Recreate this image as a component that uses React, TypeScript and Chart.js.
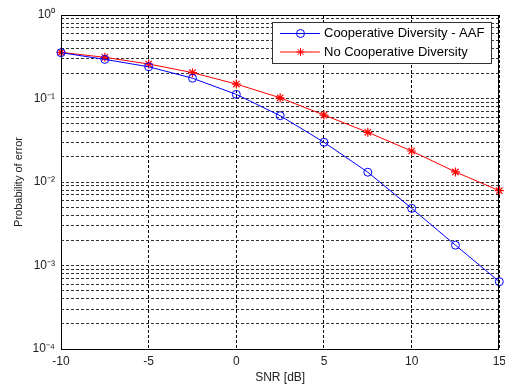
import { useEffect, useRef } from 'react';
import { Chart, registerables } from 'chart.js';

Chart.register(...registerables);

const snrDb = [-10, -7.5, -5, -2.5, 0, 2.5, 5, 7.5, 10, 12.5, 15];
const coopAAF = [0.354, 0.294, 0.24, 0.175, 0.112, 0.0622, 0.0299, 0.0131, 0.00484, 0.00175, 0.00064];
const noCoop = [0.357, 0.311, 0.259, 0.204, 0.149, 0.102, 0.0634, 0.0394, 0.0235, 0.0132, 0.00787];
const seriesLabels = ['Cooperative Diversity - AAF', 'No Cooperative Diversity'];
const seriesColors = ['#0000ff', '#ff0000'];
const xTickValues = [-10, -5, 0, 5, 10, 15];
const yDecades = [-4, -3, -2, -1];
const yMantissas = [1, 2, 3, 4, 5, 6, 7, 8, 9];
const xTitle = 'SNR [dB]';
const yTitle = 'Probability of error';

const FONT = '"Liberation Sans", Arial, Helvetica, sans-serif';

const yTickValues: number[] = [];
yDecades.forEach((d) => yMantissas.forEach((m) => yTickValues.push(parseFloat((m * Math.pow(10, d)).toPrecision(3)))));
yTickValues.push(1);

const SUP: Record<string, string> = { '-': '⁻', '0': '⁰', '1': '¹', '2': '²', '3': '³', '4': '⁴', '5': '⁵', '6': '⁶', '7': '⁷', '8': '⁸', '9': '⁹' };
const sup = (s: string) => s.split('').map((c) => SUP[c] ?? c).join('');

const bgPlugin = {
  id: 'bg',
  beforeDraw(chart: any) {
    const { ctx, width, height } = chart;
    ctx.save();
    ctx.fillStyle = '#ffffff';
    ctx.fillRect(0, 0, width, height);
    ctx.restore();
  },
};

const framePlugin = {
  id: 'frame',
  afterDatasetsDraw(chart: any) {
    const { ctx, chartArea: a } = chart;
    ctx.save();
    ctx.strokeStyle = '#000';
    ctx.lineWidth = 1;
    ctx.strokeRect(Math.round(a.left) + 0.5, Math.round(a.top) + 0.5, Math.round(a.right - a.left) - 1, Math.round(a.bottom - a.top));
    ctx.restore();
  },
};

const legendPlugin = {
  id: 'mlLegend',
  afterDraw(chart: any) {
    const { ctx } = chart;
    const ds = chart.data.datasets;
    const bx = 272, by = 22, bw = 219, bh = 41;
    ctx.save();
    ctx.fillStyle = '#fff';
    ctx.fillRect(bx, by, bw, bh);
    ctx.strokeStyle = '#333';
    ctx.lineWidth = 1;
    ctx.strokeRect(bx + 0.5, by + 0.5, bw, bh);
    const rows = [33.5, 52];
    ds.forEach((d: any, i: number) => {
      const y = rows[i];
      ctx.strokeStyle = d.borderColor;
      ctx.lineWidth = 1;
      ctx.beginPath();
      ctx.moveTo(280, y);
      ctx.lineTo(320, y);
      ctx.stroke();
      const cx = 300.5;
      if (d.pointStyle === 'circle') {
        ctx.beginPath();
        ctx.arc(cx, y, 4, 0, Math.PI * 2);
        ctx.stroke();
      } else {
        const r = 4;
        ctx.beginPath();
        for (let k = 0; k < 4; k++) {
          const ang = (k * Math.PI) / 4;
          ctx.moveTo(cx + r * Math.cos(ang), y + r * Math.sin(ang));
          ctx.lineTo(cx - r * Math.cos(ang), y - r * Math.sin(ang));
        }
        ctx.stroke();
      }
      ctx.fillStyle = '#000';
      ctx.font = `13px ${FONT}`;
      ctx.textBaseline = 'middle';
      ctx.textAlign = 'left';
      ctx.fillText(d.label, 324, y);
    });
    ctx.restore();
  },
};

export default function App() {
  const ref = useRef<HTMLCanvasElement | null>(null);
  useEffect(() => {
    document.body.style.margin = '0';
    const canvas = ref.current!;
    const chart = new Chart(canvas, {
      type: 'line',
      data: {
        datasets: [
          {
            label: seriesLabels[0],
            data: snrDb.map((x, i) => ({ x, y: coopAAF[i] })),
            borderColor: seriesColors[0],
            backgroundColor: 'transparent',
            borderWidth: 1,
            pointStyle: 'circle',
            pointRadius: 4,
            pointBorderWidth: 1,
            pointBorderColor: seriesColors[0],
            pointBackgroundColor: 'transparent',
            tension: 0,
            clip: false as any,
          },
          {
            label: seriesLabels[1],
            data: snrDb.map((x, i) => ({ x, y: noCoop[i] })),
            borderColor: seriesColors[1],
            backgroundColor: 'transparent',
            borderWidth: 1,
            pointStyle: 'star',
            pointRadius: 4.5,
            pointBorderWidth: 1.2,
            pointBorderColor: seriesColors[1],
            pointBackgroundColor: 'transparent',
            tension: 0,
            clip: false as any,
          },
        ],
      },
      options: {
        animation: false,
        responsive: false,
        devicePixelRatio: 1,
        layout: { padding: { top: 15, right: 4, left: 0, bottom: 0 } },
        plugins: { legend: { display: false }, tooltip: { enabled: false } },
        scales: {
          x: {
            type: 'linear',
            min: -10,
            max: 15,
            afterBuildTicks: (s: any) => {
              s.ticks = xTickValues.map((v) => ({ value: v }));
            },
            afterFit: (s: any) => {
              s.height = 39;
              s.paddingLeft = 0;
              s.paddingRight = 0;
            },
            grid: { color: '#000', lineWidth: 1, drawTicks: false, tickLength: 0 },
            border: { display: false, dash: [3, 2] },
            ticks: {
              autoSkip: false,
              maxRotation: 0,
              padding: 5,
              color: '#222',
              font: { family: FONT, size: 12 },
              callback: (v: any) => String(v),
            },
            title: {
              display: true,
              text: xTitle,
              color: '#222',
              font: { family: FONT, size: 12 },
              padding: { top: 0, bottom: 3 },
            },
          },
          y: {
            type: 'logarithmic',
            min: 1e-4,
            max: 1,
            afterBuildTicks: (s: any) => {
              s.ticks = yTickValues.map((v) => ({ value: v }));
            },
            afterFit: (s: any) => {
              s.width = 61;
              s.paddingTop = 0;
              s.paddingBottom = 0;
            },
            grid: { color: '#333', lineWidth: 1, drawTicks: false, tickLength: 0 },
            border: { display: false, dash: [3, 2] },
            ticks: {
              autoSkip: false,
              padding: 6,
              color: '#222',
              font: { family: FONT, size: 12 },
              callback: (v: any) => {
                const e = Math.log10(Number(v));
                return Math.abs(e - Math.round(e)) < 1e-9 ? '10' + sup(String(Math.round(e))) : '';
              },
            },
            title: {
              display: true,
              text: yTitle,
              color: '#222',
              font: { family: FONT, size: 11 },
              padding: { top: 12, bottom: 0 },
            },
          },
        },
      },
      plugins: [bgPlugin, framePlugin, legendPlugin],
    } as any);
    return () => chart.destroy();
  }, []);
  return (
    <div style={{ width: 505, height: 388 }}>
      <canvas ref={ref} width={505} height={388} style={{ display: 'block' }} />
    </div>
  );
}
